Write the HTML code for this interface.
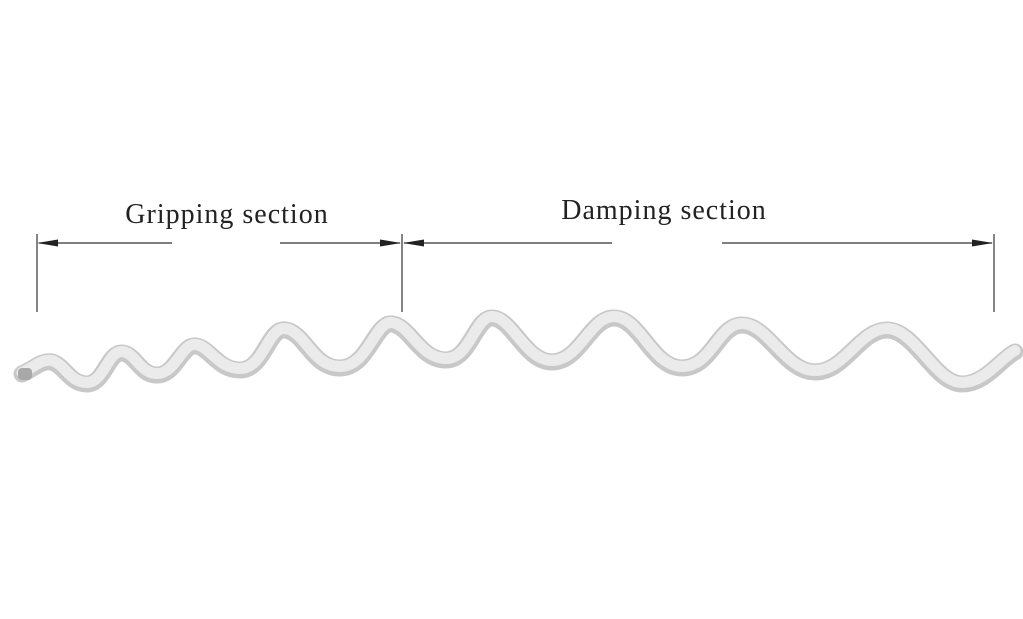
<!DOCTYPE html>
<html><head><style>
html,body{margin:0;padding:0;background:#fff;}
svg{display:block;}
</style></head><body>
<svg width="1023" height="619" viewBox="0 0 1023 619" xmlns="http://www.w3.org/2000/svg">
<rect width="1023" height="619" fill="#fff"/>
<g stroke="#333" stroke-width="1.2" fill="none">
<line x1="37" y1="234" x2="37" y2="312"/>
<line x1="402" y1="234" x2="402" y2="312"/>
<line x1="994" y1="234" x2="994" y2="312"/>
<line x1="39" y1="243" x2="172" y2="243"/>
<line x1="280" y1="243" x2="400" y2="243"/>
<line x1="404" y1="243" x2="612" y2="243"/>
<line x1="722" y1="243" x2="992" y2="243"/>
</g>
<g fill="#222">
<polygon points="37,243 58,239.5 58,246.5"/>
<polygon points="401,243 380,239.5 380,246.5"/>
<polygon points="403,243 424,239.5 424,246.5"/>
<polygon points="993,243 972,239.5 972,246.5"/>
</g>
<text x="227" y="223" font-family="Liberation Serif, serif" font-size="28" letter-spacing="1" fill="#222" text-anchor="middle">Gripping section</text>
<text x="664" y="219" font-family="Liberation Serif, serif" font-size="28" letter-spacing="1" fill="#222" text-anchor="middle">Damping section</text>
<path d="M22,374 C35,368 42,360 52,362 C65,366 70,384 87,384 C104,384 108,352 122,353 C136,354 140,376 158,375 C176,374 182,344 196,346 C210,348 218,370 240,370 C264,370 268,328 285,330 C305,332 312,368 340,368 C368,368 375,322 392,324 C410,326 420,360 446,360 C470,360 475,318 492,318 C512,318 525,362 552,362 C580,362 590,318 614,318 C640,318 652,368 682,368 C712,368 718,325 742,325 C768,325 785,372 815,372 C845,372 860,330 887,330 C915,330 935,384 962,384 C985,384 1000,360 1015,352" fill="none" stroke="#c8c8c8" stroke-width="17" stroke-linecap="round"/>
<path d="M22,374 C35,368 42,360 52,362 C65,366 70,384 87,384 C104,384 108,352 122,353 C136,354 140,376 158,375 C176,374 182,344 196,346 C210,348 218,370 240,370 C264,370 268,328 285,330 C305,332 312,368 340,368 C368,368 375,322 392,324 C410,326 420,360 446,360 C470,360 475,318 492,318 C512,318 525,362 552,362 C580,362 590,318 614,318 C640,318 652,368 682,368 C712,368 718,325 742,325 C768,325 785,372 815,372 C845,372 860,330 887,330 C915,330 935,384 962,384 C985,384 1000,360 1015,352" fill="none" stroke="#ebebeb" stroke-width="11" stroke-linecap="round" transform="translate(0,-1.5)"/>
<rect x="18" y="368" width="14" height="12" rx="4" fill="#a8a8a8"/>
</svg>
</body></html>
